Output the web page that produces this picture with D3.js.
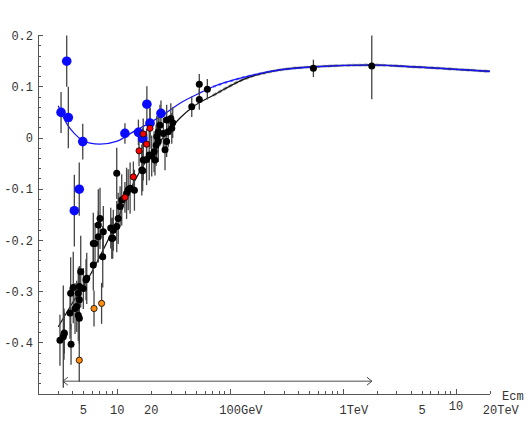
<!DOCTYPE html>
<html><head><meta charset="utf-8">
<script src="https://cdn.jsdelivr.net/npm/d3@7/dist/d3.min.js"></script>
<style>html,body{margin:0;padding:0;background:#fff;} svg{display:block;}</style>
</head><body>
<svg id="c" width="532" height="426"></svg>
<script>
// ---------- data (energy in GeV, value, error) ----------
const blueE   = [3.18, 3.57, 3.69, 4.95, 4.17, 4.61, 11.7, 15.4, 16.8, 18.3, 19.5, 24.4];
const blueV   = [0.05, 0.15, 0.04, -0.007, -0.142, -0.10, 0.009, 0.011, -0.001, 0.066, 0.029, 0.048];
const blueErr = [0.04, 0.05, 0.06, 0.035, 0.07, 0.052, 0.02, 0.025, 0.02, 0.035, 0.03, 0.025];

const blackE = [3.11, 3.33, 3.38, 3.40, 3.90, 3.82, 3.87, 4.08, 4.23, 4.38, 4.52, 4.62, 4.62, 4.52, 4.62, 4.75, 5.01, 5.29, 5.37,
  6.14, 6.14, 6.36, 6.80, 6.80, 7.04, 7.44, 7.53, 8.76, 8.94, 9.12, 9.23, 9.90, 10.2, 9.90, 10.6, 10.96, 12.1, 12.5, 13.0, 14.2,
  16.5, 16.8, 17.0, 18.2, 19.2, 20.2, 21.6, 21.2, 22.1, 23.1, 22.4, 23.1, 23.9, 25.6, 26.5, 27.4, 28.3, 27.4, 29.8, 31.0, 30.4,
  45.7, 53.3, 53.3, 62.8, 546, 1795];
const blackV = [-0.395, -0.388, -0.383, -0.381, -0.403, -0.342, -0.303, -0.292, -0.333, -0.329, -0.346, -0.352, -0.316, -0.303, -0.29, -0.261, -0.294, -0.277, -0.274,
  -0.248, -0.206, -0.206, -0.193, -0.17, -0.157, -0.232, -0.183, -0.176, -0.196, -0.196, -0.18, -0.173, -0.157, -0.069, -0.134, -0.121, -0.108, -0.101, -0.098, -0.102,
  -0.0625, -0.064, -0.043, -0.042, -0.033, -0.035, -0.043, -0.027, -0.014, -0.007, 0.003, 0.012, 0.025, 0.009, -0.023, -0.007, 0.012, 0.035, 0.038, 0.03, 0.019,
  0.061, 0.075, 0.105, 0.095, 0.136, 0.1406];
const blackErr = [0.05, 0.1, 0.05, 0.04, 0.04, 0.05, 0.07, 0.07, 0.05, 0.05, 0.05, 0.05, 0.06, 0.05, 0.04, 0.07, 0.04, 0.04, 0.05,
  0.05, 0.06, 0.04, 0.05, 0.07, 0.06, 0.06, 0.05, 0.04, 0.04, 0.04, 0.04, 0.05, 0.05, 0.05, 0.04, 0.05, 0.05, 0.04, 0.05, 0.04,
  0.05, 0.04, 0.04, 0.05, 0.05, 0.04, 0.03, 0.04, 0.04, 0.04, 0.04, 0.04, 0.04, 0.03, 0.04, 0.03, 0.03, 0.03, 0.03, 0.03, 0.03,
  0.02, 0.02, 0.02, 0.02, 0.017, 0.065];

const redE   = [17.0, 19.5, 18.2, 15.6, 13.9, 11.7];
const redV   = [0.008, 0.019, -0.012, -0.025, -0.076, -0.116];
const redErr = [0.03, 0.04, 0.03, 0.03, 0.03, 0.03];

const orangeE   = [4.61, 6.23, 7.27];
const orangeV   = [-0.434, -0.333, -0.323];
const orangeErr = [0.042, 0.035, 0.04];

const blackCurveE = [3.0, 4.2, 5.74, 7.0, 8.6, 10, 13.8, 19.5, 27.4, 36, 47, 70.5, 140, 276, 542, 1800, 4170, 20000];
const blackCurveV = [-0.369, -0.315, -0.268, -0.232, -0.192, -0.16, -0.09, -0.033, 0.009, 0.039, 0.061, 0.083, 0.117, 0.133, 0.139, 0.1426, 0.139, 0.13];
const blueCurveE = [3.0, 3.57, 4.2, 4.95, 5.74, 7.0, 10, 13.8, 19.5, 27.4, 36, 54, 70.5, 140, 276, 542, 1800, 4170, 20000];
const blueCurveV = [0.063, 0.028, 0.008, -0.005, -0.010, -0.012, -0.006, 0.012, 0.03, 0.05, 0.068, 0.088, 0.1, 0.12, 0.133, 0.139, 0.1426, 0.139, 0.13];

const arrowE = [3.3, 1800];
const arrowV = -0.475;

const xLabelValues = [5, 10, 20, 100, 1000, 5000, 10000, 20000];
const xLabelTexts  = ["5", "10", "20", "100GeV", "1TeV", "5", "10", "20TeV"];
const yLabelValues = [0.2, 0.1, 0, -0.1, -0.2, -0.3, -0.4];
const yLabelTexts  = ["0.2", "0.1", "0", "-0.1", "-0.2", "-0.3", "-0.4"];
const xAxisTitle = "Ecm";

// ---------- scales ----------
const svg = d3.select("#c");
const x = d3.scaleLog().domain([2, 20000]).range([38.3, 490]);
const y = d3.scaleLinear().domain([-0.5, 0.2]).range([394, 35.6]);
const FONT = "'Liberation Mono', 'DejaVu Sans Mono', monospace";

// ---------- axes ----------
const ax = svg.append("g").attr("stroke", "#555").attr("stroke-width", 1).attr("shape-rendering", "crispEdges");
ax.append("line").attr("x1", x(2)).attr("x2", x(20000)).attr("y1", y(-0.5)).attr("y2", y(-0.5));
ax.append("line").attr("x1", x(2)).attr("x2", x(2)).attr("y1", y(-0.5)).attr("y2", y(0.2));
// x ticks
const xt = [];
for (let d = 1; d <= 10000; d *= 10) for (let m = 1; m <= 9; m++) { const v = d * m; if (v > 2 && v <= 20000) xt.push(v); }
xt.forEach(v => {
  const major = [10, 100, 1000, 10000].includes(v);
  ax.append("line").attr("x1", x(v)).attr("x2", x(v)).attr("y1", y(-0.5)).attr("y2", y(-0.5) - (major ? 5 : 3));
});
// y ticks
for (let i = -25; i <= 10; i++) {
  const v = i * 0.02; const major = i % 5 === 0;
  ax.append("line").attr("x1", x(2)).attr("x2", x(2) + (major ? 5 : 3)).attr("y1", y(v)).attr("y2", y(v));
}
// y labels
yLabelValues.forEach((v, i) => {
  svg.append("text").attr("x", 33).attr("y", y(v)).attr("dy", "0.35em").attr("text-anchor", "end")
    .attr("font-family", FONT).attr("font-size", 12).attr("fill", "#333").text(yLabelTexts[i]);
});
// x labels
xLabelValues.forEach((v, i) => {
  const t = xLabelTexts[i];
  const num = t.match(/^[0-9.]+/)[0];
  const cw = 7.2;
  const raised = (v === 10000);
  svg.append("text").attr("x", x(v) - num.length * cw / 2).attr("y", raised ? 410 : 414)
    .attr("font-family", FONT).attr("font-size", 12).attr("fill", "#333").text(t);
});
svg.append("text").attr("x", 502).attr("y", 400).attr("font-family", FONT).attr("font-size", 12).attr("fill", "#333").text(xAxisTitle);

// ---------- arrow ----------
const ay = y(arrowV), ax1 = x(arrowE[0]), ax2 = x(arrowE[1]);
const ag = svg.append("g").attr("fill", "none");
ag.append("line").attr("x1", ax1).attr("x2", ax2).attr("y1", ay).attr("y2", ay).attr("stroke", "#888").attr("stroke-width", 1.6);
ag.append("path").attr("d", `M${ax1 + 5},${ay - 4}L${ax1},${ay}L${ax1 + 5},${ay + 4}`).attr("stroke", "#444").attr("stroke-width", 1);
ag.append("path").attr("d", `M${ax2 - 5},${ay - 4}L${ax2},${ay}L${ax2 - 5},${ay + 4}`).attr("stroke", "#444").attr("stroke-width", 1);

// ---------- curves ----------
const line = d3.line().x(d => x(d[0])).y(d => y(d[1])).curve(d3.curveMonotoneX);
const bc = blackCurveE.map((e, i) => [e, blackCurveV[i]]);
const uc = blueCurveE.map((e, i) => [e, blueCurveV[i]]);
svg.append("path").attr("d", line(bc.filter(d => d[0] >= 70))).attr("fill", "none").attr("stroke", "#777").attr("stroke-width", 2.8).attr("stroke-dasharray", "4 2").attr("opacity", 0.7);
svg.append("path").attr("d", line(uc.filter(d => d[0] >= 70))).attr("fill", "none").attr("stroke", "#4a4aff").attr("stroke-width", 2.2).attr("stroke-dasharray", "3 3").attr("opacity", 0.7);
svg.append("path").attr("d", line(bc)).attr("fill", "none").attr("stroke", "#111").attr("stroke-width", 1.2);
svg.append("path").attr("d", line(uc)).attr("fill", "none").attr("stroke", "#1515ff").attr("stroke-width", 1.2);

// ---------- error bars & points ----------
function series(E, V, Err) { return E.map((e, i) => ({ e, v: V[i], err: Err[i] })); }
const blue = series(blueE, blueV, blueErr), black = series(blackE, blackV, blackErr),
      red = series(redE, redV, redErr), orange = series(orangeE, orangeV, orangeErr);
const bars = svg.append("g").attr("stroke", "#444").attr("stroke-width", 1.3);
[...blue, ...black, ...red, ...orange].forEach(d => {
  bars.append("line").attr("x1", x(d.e)).attr("x2", x(d.e)).attr("y1", y(d.v - d.err)).attr("y2", y(Math.min(0.2, d.v + d.err)));
});
svg.append("g").selectAll("circle").data(blue).join("circle")
  .attr("cx", d => x(d.e)).attr("cy", d => y(d.v)).attr("r", 4.8).attr("fill", "#0a0aff");
svg.append("g").selectAll("circle").data(black).join("circle")
  .attr("cx", d => x(d.e)).attr("cy", d => y(d.v)).attr("r", 3.5).attr("fill", "#000");
svg.append("g").selectAll("circle").data(red).join("circle")
  .attr("cx", d => x(d.e)).attr("cy", d => y(d.v)).attr("r", 3.1).attr("fill", "#ff0000").attr("stroke", "#000").attr("stroke-width", 0.8);
svg.append("g").selectAll("circle").data(orange).join("circle")
  .attr("cx", d => x(d.e)).attr("cy", d => y(d.v)).attr("r", 3.1).attr("fill", "#ff8c10").attr("stroke", "#000").attr("stroke-width", 0.8);
</script>
</body></html>
